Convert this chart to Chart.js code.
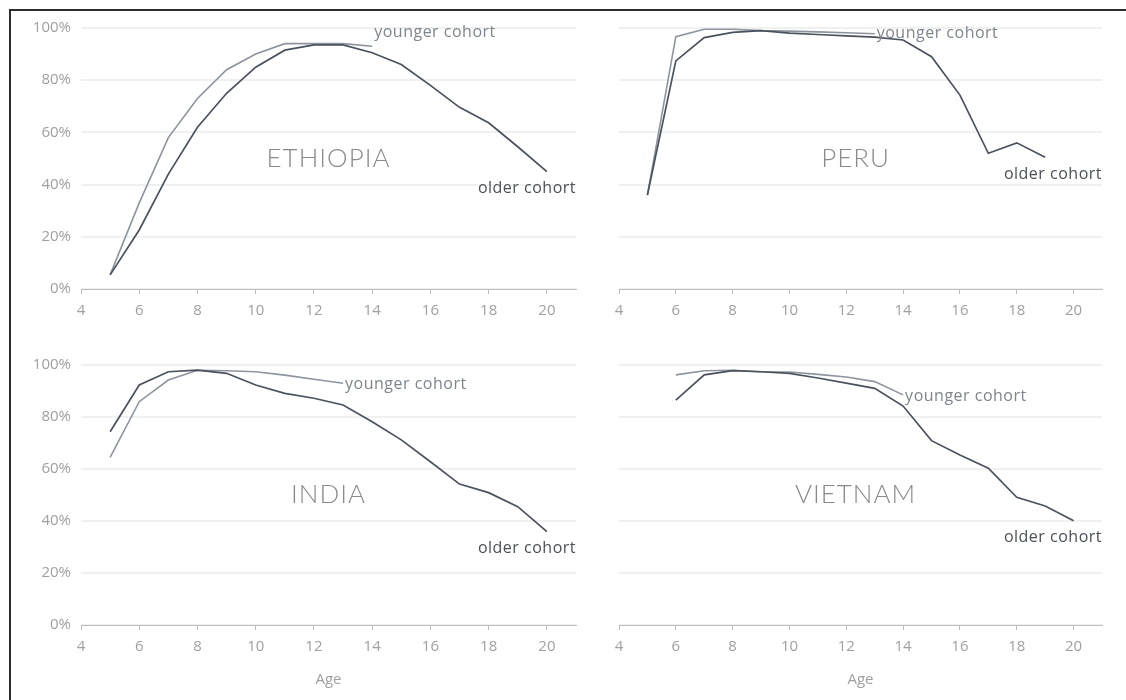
<!DOCTYPE html>
<html>
<head>
<meta charset="utf-8">
<script src="https://cdn.jsdelivr.net/npm/chart.js@4.4.1/dist/chart.umd.min.js"></script>
<style>
  html, body { margin: 0; padding: 0; background: #fff; width: 1126px; height: 700px; overflow: hidden; }
  #frame { position: absolute; left: 9px; top: 9px; width: 1200px; height: 800px;
           border-left: 2px solid #2e2e2e; border-top: 2px solid #2e2e2e; }
  canvas.panel { position: absolute; }
</style>
</head>
<body>
<div id="frame"></div>
<canvas id="ethiopia" class="panel" width="600" height="329" style="left:0px;top:0px"></canvas>
<canvas id="peru" class="panel" width="566" height="329" style="left:560px;top:0px"></canvas>
<canvas id="india" class="panel" width="600" height="352" style="left:0px;top:337px"></canvas>
<canvas id="vietnam" class="panel" width="566" height="352" style="left:560px;top:337px"></canvas>
<script>
// Axis ticks
const ageTicks = [4, 6, 8, 10, 12, 14, 16, 18, 20];
const pctTicks = [0, 20, 40, 60, 80, 100];

// Share of children enrolled (%), by age
const ethiopiaOlderAges = [5, 6, 7, 8, 9, 10, 11, 12, 13, 14, 15, 16, 17, 18, 19, 20];
const ethiopiaOlder     = [5.4, 22.6, 44, 62, 75, 85, 91.5, 93.5, 93.5, 90.5, 86, 78, 69.6, 63.7, 54.5, 45];
const ethiopiaYoungerAges = [5, 6, 7, 8, 9, 10, 11, 12, 13, 14];
const ethiopiaYounger     = [5.4, 33, 58, 73, 84, 90, 94, 94, 94, 93];

const peruOlderAges = [5, 6, 7, 8, 9, 10, 11, 12, 13, 14, 15, 16, 17, 18, 19];
const peruOlder     = [36, 87.4, 96.3, 98.3, 99, 98, 97.5, 97, 96.5, 95.4, 89, 74.3, 52, 56, 50.5];
const peruYoungerAges = [5, 6, 7, 8, 9, 10, 11, 12, 13];
const peruYounger     = [36, 96.7, 99.5, 99.5, 99, 98.8, 98.5, 98.2, 97.8];

const indiaOlderAges = [5, 6, 7, 8, 9, 10, 11, 12, 13, 14, 15, 16, 17, 18, 19, 20];
const indiaOlder     = [74.3, 92.3, 97.4, 98, 96.8, 92.3, 89.1, 87.2, 84.6, 78.2, 71.2, 62.8, 54.2, 50.9, 45.5, 35.9];
const indiaYoungerAges = [5, 6, 7, 8, 9, 10, 11, 12, 13];
const indiaYounger     = [64.5, 85.9, 94.2, 98, 97.8, 97.4, 96.1, 94.5, 93];

const vietnamOlderAges = [6, 7, 8, 9, 10, 11, 12, 13, 14, 15, 16, 17, 18, 19, 20];
const vietnamOlder     = [86.5, 96.2, 97.8, 97.4, 96.8, 95, 93, 91, 84.2, 70.9, 65.4, 60.3, 49.1, 45.8, 40.1];
const vietnamYoungerAges = [6, 7, 8, 9, 10, 11, 12, 13, 14];
const vietnamYounger     = [96.2, 97.8, 98, 97.4, 97.3, 96.4, 95.4, 93.6, 88.5];

const OLDER_COLOR = '#4a525d';
const YOUNGER_COLOR = '#8d949d';
const TICK_COLOR = '#a0a0a0';
const AXIS_COLOR = '#bcbcbc';

function points(ages, vals) {
  return ages.map((a, i) => ({ x: a, y: vals[i] }));
}

// Country name in the middle of the plot, cohort labels at the line ends
const panelText = {
  id: 'panelText',
  afterDatasetsDraw(chart, args, opts) {
    const { ctx, chartArea } = chart;
    ctx.save();
    ctx.letterSpacing = '1px';
    ctx.font = '300 26px Lato, "Open Sans", sans-serif';
    ctx.fillStyle = '#8a8a8a';
    ctx.textAlign = 'center';
    ctx.textBaseline = 'middle';
    ctx.fillText(opts.name, (chartArea.left + chartArea.right) / 2 + opts.nameDx, (chartArea.top + chartArea.bottom) / 2);

    ctx.letterSpacing = '0.5px';
    ctx.font = '16px "Open Sans", sans-serif';
    const older = chart.getDatasetMeta(0).data;
    const oEnd = older[older.length - 1];
    ctx.fillStyle = '#4b5058';
    ctx.textAlign = 'right';
    ctx.fillText('older cohort', chartArea.right, oEnd.y + 17);

    const younger = chart.getDatasetMeta(1).data;
    const yEnd = younger[younger.length - 1];
    ctx.fillStyle = '#7e858d';
    ctx.textAlign = 'left';
    ctx.fillText('younger cohort', yEnd.x + 2, yEnd.y + opts.youngerDy);
    ctx.restore();
  }
};

function makePanel(id, name, oAges, oVals, yAges, yVals, cfg) {
  return new Chart(document.getElementById(id), {
    type: 'line',
    data: {
      datasets: [
        { label: 'older cohort', data: points(oAges, oVals), borderColor: OLDER_COLOR, borderWidth: 1.7,
          pointRadius: 0, tension: 0, fill: false },
        { label: 'younger cohort', data: points(yAges, yVals), borderColor: YOUNGER_COLOR, borderWidth: 1.6,
          pointRadius: 0, tension: 0, fill: false }
      ]
    },
    options: {
      responsive: false,
      animation: false,
      events: [],
      layout: { padding: { top: 28, right: 24, left: 0, bottom: 0 } },
      plugins: {
        legend: { display: false },
        tooltip: { enabled: false },
        panelText: { name: name, youngerDy: cfg.youngerDy, nameDx: cfg.nameDx || 0 }
      },
      scales: {
        x: {
          type: 'linear', min: 4, max: 21,
          afterBuildTicks: s => { s.ticks = ageTicks.map(v => ({ value: v })); },
          afterFit: s => { s.height = cfg.xHeight; },
          ticks: { color: TICK_COLOR, font: { family: '"Open Sans", sans-serif', size: 15 }, padding: 8,
                   maxRotation: 0, autoSkip: false },
          grid: { drawOnChartArea: false, drawTicks: true, tickLength: 5, color: AXIS_COLOR, lineWidth: 1 },
          border: { display: true, color: AXIS_COLOR, width: 1 },
          title: { display: cfg.showTitle, text: 'Age', color: TICK_COLOR,
                   font: { family: '"Open Sans", sans-serif', size: 15 }, padding: { top: 0, bottom: 0 } }
        },
        y: {
          type: 'linear', min: 0, max: 100,
          afterBuildTicks: s => { s.ticks = pctTicks.map(v => ({ value: v })); },
          afterFit: s => { s.width = cfg.yWidth; },
          ticks: { display: cfg.showY, callback: v => v + '%', padding: 10, color: TICK_COLOR,
                   font: { family: '"Open Sans", sans-serif', size: 15 } },
          grid: { color: '#f0f0f0', lineWidth: 2, drawTicks: false },
          border: { display: false }
        }
      }
    },
    plugins: [panelText]
  });
}

makePanel('ethiopia', 'ETHIOPIA', ethiopiaOlderAges, ethiopiaOlder, ethiopiaYoungerAges, ethiopiaYounger,
  { showY: true, yWidth: 81, xHeight: 40, showTitle: false, youngerDy: -14 });
makePanel('peru', 'PERU', peruOlderAges, peruOlder, peruYoungerAges, peruYounger,
  { showY: false, yWidth: 59, xHeight: 40, showTitle: false, youngerDy: 0, nameDx: -5 });
makePanel('india', 'INDIA', indiaOlderAges, indiaOlder, indiaYoungerAges, indiaYounger,
  { showY: true, yWidth: 81, xHeight: 64, showTitle: true, youngerDy: 1 });
makePanel('vietnam', 'VIETNAM', vietnamOlderAges, vietnamOlder, vietnamYoungerAges, vietnamYounger,
  { showY: false, yWidth: 59, xHeight: 64, showTitle: true, youngerDy: 2, nameDx: -5 });
</script>
</body>
</html>
